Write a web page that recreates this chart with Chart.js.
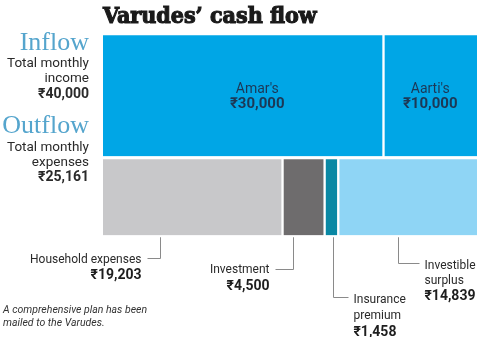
<!DOCTYPE html>
<html>
<head>
<meta charset="utf-8">
<script src="https://cdn.jsdelivr.net/npm/chart.js@4.4.1/dist/chart.umd.min.js"></script>
<style>
  html, body { margin: 0; padding: 0; background: #fff; }
  #wrap { position: relative; width: 478px; height: 337px; }
</style>
</head>
<body>
<div id="wrap"><canvas id="cashChart" width="478" height="337"></canvas></div>
<script>
// rows of the flow diagram
const rows = ['Inflow', 'Outflow'];
const rowCaptions = [['Total monthly', 'income'], ['Total monthly', 'expenses']];
const rowTotals = [40000, 25161];

// money coming in
const inflowNames = ["Amar's", "Aarti's"];
const inflowValues = [30000, 10000];

// money going out
const outflowNames = [['Household expenses'], ['Investment'], ['Insurance', 'premium'], ['Investible', 'surplus']];
const outflowValues = [19203, 4500, 1458, 14839];

const inflowColors = ['#00a6e6', '#00a6e6'];
const outflowColors = ['#c8c8ca', '#6e6c6d', '#0a88a4', '#8fd5f5'];

// where each leader line hangs off its block and how the text sits
const callouts = [
  { frac: 0.32, lineY: 258, arm: -13, textY: 263, gap: 15 },
  { frac: 0.26, lineY: 269, arm: -18, textY: 273, gap: 16 },
  { frac: 0.60, lineY: 297, arm: 15, textY: 303, gap: 16 },
  { frac: 0.43, lineY: 263, arm: 21, textY: 269, gap: 15 }
];

function rupees(v) {
  return '\u20b9' + v.toLocaleString('en-IN');
}

function rowData(rowIndex, value) {
  return rows.map((r, i) => i === rowIndex ? value : null);
}

function segment(label, value, row, color, first, last, thickness) {
  return {
    label: label,
    data: rowData(row, value),
    backgroundColor: color,
    borderColor: '#ffffff',
    borderWidth: { left: first ? 0 : 1.5, right: last ? 0 : 1.5, top: 0, bottom: 0 },
    borderSkipped: false,
    barThickness: thickness,
    clip: false,
    stack: 'flow'
  };
}

const datasets = [];
inflowValues.forEach((v, i) => {
  datasets.push(segment(inflowNames[i], v, 0, inflowColors[i], i === 0, i === inflowValues.length - 1, 121));
});
outflowValues.forEach((v, i) => {
  datasets.push(segment(outflowNames[i].join(' '), v, 1, outflowColors[i], i === 0, i === outflowValues.length - 1, 76));
});

const labelsPlugin = {
  id: 'flowLabels',
  afterDatasetsDraw(chart) {
    const ctx = chart.ctx;
    ctx.save();

    // heading, stroked too so it reads heavier
    ctx.fillStyle = '#1a1a1a';
    ctx.strokeStyle = '#1a1a1a';
    ctx.lineWidth = 1.1;
    ctx.textAlign = 'left';
    ctx.textBaseline = 'alphabetic';
    ctx.font = 'bold 23px "DejaVu Serif Condensed", "DejaVu Serif", serif';
    ctx.fillText('Varudes\u2019 cash flow', 103, 23);
    ctx.strokeText('Varudes\u2019 cash flow', 103, 23);

    // row headings on the left
    const heads = [{ y: 50, cap: [67, 82], total: 98 }, { y: 133, cap: [151, 166], total: 181 }];
    ctx.textAlign = 'right';
    rows.forEach((r, i) => {
      ctx.fillStyle = '#55a5cd';
      ctx.font = '26px "Liberation Serif", serif';
      ctx.fillText(r, 89, heads[i].y);
      ctx.fillStyle = '#2a2a2a';
      ctx.font = '13.5px Roboto, sans-serif';
      rowCaptions[i].forEach((t, k) => ctx.fillText(t, 89, heads[i].cap[k]));
      ctx.font = 'bold 14px Roboto, sans-serif';
      ctx.fillText(rupees(rowTotals[i]), 89, heads[i].total);
    });

    // names inside the income blocks
    const inFrac = [0.55, 0.5];
    ctx.textAlign = 'center';
    inflowValues.forEach((v, i) => {
      const bar = chart.getDatasetMeta(i).data[0];
      const x = bar.base + (bar.x - bar.base) * inFrac[i];
      ctx.fillStyle = '#1c3856';
      ctx.font = '14px Roboto, sans-serif';
      ctx.fillText(inflowNames[i], x, 93);
      ctx.font = 'bold 15px Roboto, sans-serif';
      ctx.fillText(rupees(v), x, 108);
    });

    // leader lines for the spending blocks
    outflowValues.forEach((v, i) => {
      const bar = chart.getDatasetMeta(inflowValues.length + i).data[1];
      const c = callouts[i];
      const x = Math.round(bar.base + (bar.x - bar.base) * c.frac) + 0.5;
      const top = bar.y + bar.height / 2 + 2;
      ctx.strokeStyle = '#8a8a8a';
      ctx.lineWidth = 1;
      ctx.beginPath();
      ctx.moveTo(x, top);
      ctx.lineTo(x, c.lineY + 0.5);
      ctx.lineTo(x + c.arm, c.lineY + 0.5);
      ctx.stroke();

      const right = c.arm > 0;
      const tx = right ? x + c.arm + 5 : x + c.arm - 6;
      ctx.textAlign = right ? 'left' : 'right';
      ctx.fillStyle = '#2a2a2a';
      ctx.font = '12px Roboto, sans-serif';
      let y = c.textY;
      outflowNames[i].forEach((t) => {
        ctx.fillText(t, tx, y);
        y += c.gap;
      });
      ctx.fillStyle = '#1e1e1e';
      ctx.font = 'bold 14px Roboto, sans-serif';
      ctx.fillText(rupees(v), tx, y + 1);
    });

    // footnote
    ctx.textAlign = 'left';
    ctx.fillStyle = '#333333';
    ctx.font = 'italic 10.5px Roboto, sans-serif';
    ctx.fillText('A comprehensive plan has been', 3, 313);
    ctx.fillText('mailed to the Varudes.', 3, 326);

    ctx.restore();
  }
};

new Chart(document.getElementById('cashChart'), {
  type: 'bar',
  data: { labels: rows, datasets: datasets },
  options: {
    indexAxis: 'y',
    responsive: false,
    animation: false,
    layout: { padding: { left: 103, right: 1, top: 45, bottom: 89 } },
    scales: {
      x: { stacked: true, min: 0, max: rowTotals[0], display: false },
      y: { stacked: true, display: false }
    },
    plugins: {
      legend: { display: false },
      tooltip: { enabled: false },
      title: { display: false }
    }
  },
  plugins: [labelsPlugin]
});
</script>
</body>
</html>
